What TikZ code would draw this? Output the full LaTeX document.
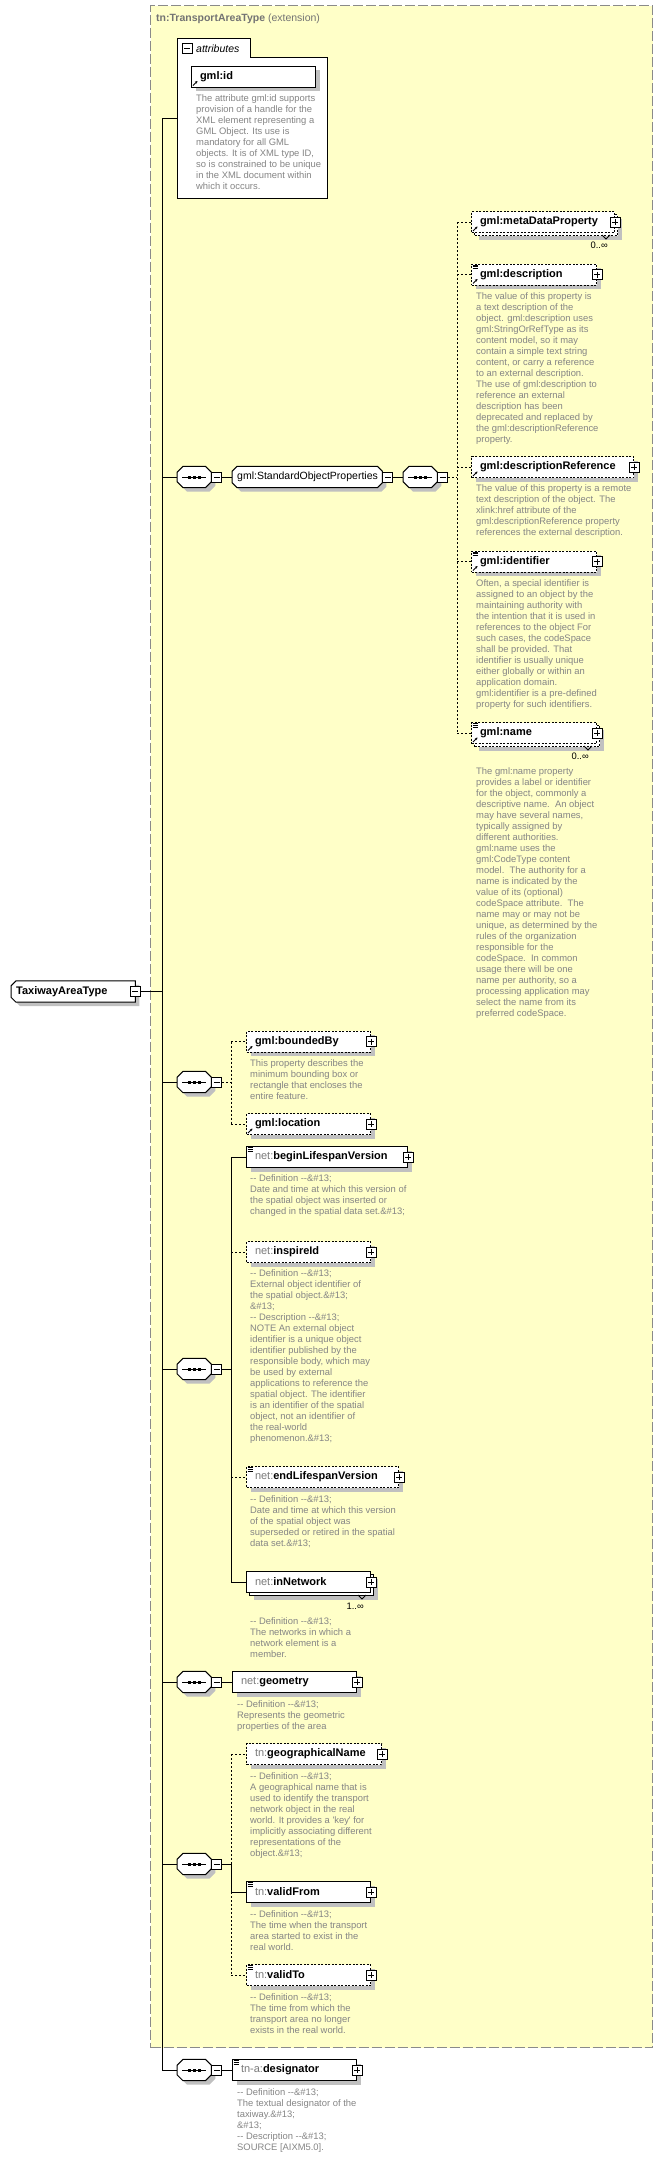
\documentclass[tikz,border=0pt]{standalone}
\usepackage{fontspec}
\setmainfont{Liberation Sans}
\usetikzlibrary{shadows,calc,arrows.meta}
\definecolor{ylw}{HTML}{FFFFC8}
\definecolor{ybord}{HTML}{8A8A8A}
\definecolor{dgray}{HTML}{858585}
\definecolor{pfx}{HTML}{7A7A7A}
\definecolor{hdr}{HTML}{737373}
\definecolor{shg}{HTML}{C0C0C0}
\newcommand\dfont{\fontsize{9.4}{11}\selectfont}
\newcommand\efont{\fontsize{11}{13}\selectfont\bfseries}
\newcommand\nfont{\fontsize{10.5}{12}\selectfont}
\newcommand\dd{-{}-}
\newcommand\ent{\&\#13;}
\tikzset{
  elemns/.style={draw, fill=white, line width=1pt, inner sep=0pt, minimum height=21pt, anchor=west, font=\efont},
  elem/.style={elemns, drop shadow={shadow xshift=4pt, shadow yshift=-4pt, fill=shg, opacity=1}},
  dsh/.style={dash pattern=on 2pt off 1.5pt},
  pbox/.style={draw, fill=white, line width=.8pt, minimum size=10pt, inner sep=0pt,
    path picture={\draw[line width=.8pt] ($(path picture bounding box.west)+(2,0)$) -- ($(path picture bounding box.east)+(-2,0)$)
      ($(path picture bounding box.north)+(0,2)$) -- ($(path picture bounding box.south)+(0,-2)$);}},
  mbox/.style={draw, fill=white, line width=.8pt, minimum size=10pt, inner sep=0pt,
    path picture={\draw[line width=.8pt] ($(path picture bounding box.west)+(2,0)$) -- ($(path picture bounding box.east)+(-2,0)$);}},
  anc/.style={draw=none, inner sep=0pt, anchor=west, minimum height=21pt},
  conn/.style={line width=1pt},
  dconn/.style={line width=1pt, dash pattern=on 2pt off 2pt},
  desc/.style={anchor=north west, inner sep=0pt, align=left, font=\dfont, text=dgray},
  mult/.style={anchor=east, inner sep=0pt, font=\dfont},
}
\newcommand\octpath[4]{($(#1.north west)+(#2+#3,#4)$) -- ($(#1.north east)+(-#2+#3,#4)$) -- ($(#1.north east)+(#3,#2+#4)$) -- ($(#1.south east)+(#3,-#2+#4)$) -- ($(#1.south east)+(-#2+#3,#4)$) -- ($(#1.south west)+(#2+#3,#4)$) -- ($(#1.south west)+(#3,-#2+#4)$) -- ($(#1.north west)+(#3,#2+#4)$) -- cycle}
\newcommand\octa[2]{\fill[shg] \octpath{#1}{#2}{4}{4}; \draw[line width=1pt, fill=white] \octpath{#1}{#2}{0}{0};}
\newcommand\seqicon[1]{%
  \draw[line width=.9pt] ($(#1.center)+(-12,0)$) -- ($(#1.center)+(12,0)$);
  \foreach \d in {-5,0,5} \fill ($(#1.center)+(\d-1.5,-1.5)$) rectangle ($(#1.center)+(\d+1.5,1.5)$);}
\newcommand\seqnode[3]{\node[anc, minimum width=34pt] (#1) at (#2,#3) {}; \octa{#1}{6} \seqicon{#1} \node[mbox, anchor=west] (#1m) at (#1.east) {};}
\newcommand\simpleicon[1]{\foreach \d in {1.6,3.3,5.0} \draw[line width=.7pt] ($(#1.north west)+(1.5,\d)$) -- ($(#1.north west)+(6.5,\d)$);}
\newcommand\reficon[1]{\draw[line width=.8pt, -{Stealth[length=2.6pt,width=2.6pt]}] ($(#1.south west)+(2,-2)$) -- ($(#1.south west)+(6.5,-6.5)$);}
\newcommand\elm[7][]{%
  \node[elem,#1] (#2) at (#3,#4) {\makebox[#5pt][l]{\hspace{8.5pt}{\mdseries\color{pfx}#6}#7}};
  \node[pbox] (#2p) at (#2.east) {};}
\newcommand\elmm[7][]{%
  \node[elem,#1] (#2b) at (#3+3,#4+3) {\makebox[#5pt][l]{}};
  \draw[line width=.8pt] ($(#2b.south east)+(-16,-1)$) -- ($(#2b.south east)+(-12,3)$) -- ($(#2b.south east)+(-8,-1)$);
  \node[elemns,#1] (#2) at (#3,#4) {\makebox[#5pt][l]{\hspace{8.5pt}{\mdseries\color{pfx}#6}#7}};
  \node[pbox] (#2p) at (#2.east) {};}
\newcommand\twshape[2]{($(#1.north west)+(5+#2,#2)$) -- ($(#1.north east)+(#2,#2)$) -- ($(#1.south east)+(#2,#2)$) -- ($(#1.south west)+(5+#2,#2)$) -- ($(#1.south west)+(#2,-5+#2)$) -- ($(#1.north west)+(#2,5+#2)$) -- cycle}
\begin{document}
\begin{tikzpicture}[x=1pt,y=-1pt]
\useasboundingbox (0,0) rectangle (669,2158);
% extension box
\node[draw=ybord, dash pattern=on 10pt off 3pt, line width=1pt, fill=ylw, anchor=north west, minimum width=502pt, minimum height=2042pt, inner sep=0pt] (ext) at (150,5) {};
\node[anchor=west, inner sep=0pt, font=\nfont, text=hdr] (hdr) at (156,19) {\textbf{tn:TransportAreaType} (extension)};
% attributes
\node[anchor=north west, minimum width=150pt, minimum height=160pt, inner sep=0pt] (attr) at (177,38) {};
\draw[line width=1pt, fill=white] (attr.north west) -- ($(attr.north west)+(73,0)$) -- ($(attr.north west)+(73,19)$) -- ($(attr.north east)+(0,19)$) -- (attr.south east) -- (attr.south west) -- cycle;
\node[mbox] (attrm) at (187,48.5) {};
\node[anchor=west, inner sep=0pt, font=\nfont\itshape] (attrt) at (196,48.5) {attributes};
\node[elem] (gid) at (191,76.5) {\makebox[124pt][l]{\hspace{8.5pt}gml:id}};
\reficon{gid}
\node[desc] (gidd) at (196,93.5) {\rule{0pt}{8pt}The attribute gml:id supports\\provision of a handle for the\\XML element representing a\\GML Object. Its use is\\mandatory for all GML\\objects. It is of XML type ID,\\so is constrained to be unique\\in the XML document within\\which it occurs.};
% root
\node[anc, minimum width=124pt] (tw) at (11,991.5) {};
\fill[shg] \twshape{tw}{4};
\draw[line width=1pt, fill=white] \twshape{tw}{0};
\node[anchor=west, inner sep=0pt, font=\efont] (twt) at (16,991.5) {TaxiwayAreaType};
\node[mbox] (twm) at (tw.east) {};
% spine
\coordinate (sptop) at (162,118);
\coordinate (spbot) at (162,2070);
\draw[conn] (sptop) -- (spbot);
\draw[conn] (twm.east) -- (twm.east -| sptop);
\draw[conn] (sptop) -- (sptop -| attr.west);
% standard object properties
\seqnode{s1}{177}{477}
\node[anc, minimum width=150pt] (grp) at (232,477) {};
\octa{grp}{5}
\node[anchor=west, inner sep=0pt, font=\nfont] (grpt) at (237,477) {gml:StandardObjectProperties};
\node[mbox, anchor=west] (grpm) at (grp.east) {};
\seqnode{s2}{403}{477}
\draw[conn] (s1.west -| sptop) -- (s1.west);
\draw[conn] (s1m.east) -- (grp.west);
\draw[conn] (grpm.east) -- (s2.west);
\coordinate (v2) at (457,0);
\elmm[dsh]{mdp}{471}{222}{143}{}{gml:metaDataProperty}
\reficon{mdp}
\node[mult] (mdpx) at (608,245) {0..∞};
\elm[dsh]{gdesc}{471}{274.5}{125}{}{gml:description}
\simpleicon{gdesc}\reficon{gdesc}
\node[desc] (gdescd) at (476,291.5) {\rule{0pt}{8pt}The value of this property is\\a text description of the\\object. gml:description uses\\gml:StringOrRefType as its\\content model, so it may\\contain a simple text string\\content, or carry a reference\\to an external description.\\The use of gml:description to\\reference an external\\description has been\\deprecated and replaced by\\the gml:descriptionReference\\property.};
\elm[dsh]{gdr}{471}{467}{162}{}{gml:descriptionReference}
\reficon{gdr}
\node[desc] (gdrd) at (476,483.5) {\rule{0pt}{8pt}The value of this property is a remote\\text description of the object. The\\xlink:href attribute of the\\gml:descriptionReference property\\references the external description.};
\elm[dsh]{gidf}{471}{561.5}{125}{}{gml:identifier}
\simpleicon{gidf}\reficon{gidf}
\node[desc] (gidfd) at (476,578.5) {\rule{0pt}{8pt}Often, a special identifier is\\assigned to an object by the\\maintaining authority with\\the intention that it is used in\\references to the object For\\such cases, the codeSpace\\shall be provided. That\\identifier is usually unique\\either globally or within an\\application domain.\\gml:identifier is a pre-defined\\property for such identifiers.};
\elmm[dsh]{gnm}{471}{733}{125}{}{gml:name}
\simpleicon{gnm}\reficon{gnm}
\node[mult] (gnmx) at (589,756) {0..∞};
\node[desc] (gnmd) at (476,766.5) {\rule{0pt}{8pt}The gml:name property\\provides a label or identifier\\for the object, commonly a\\descriptive name.\ \ An object\\may have several names,\\typically assigned by\\different authorities.\\gml:name uses the\\gml:CodeType content\\model.\ \ The authority for a\\name is indicated by the\\value of its (optional)\\codeSpace attribute.\ \ The\\name may or may not be\\unique, as determined by the\\rules of the organization\\responsible for the\\codeSpace.\ \ In common\\usage there will be one\\name per authority, so a\\processing application may\\select the name from its\\preferred codeSpace.};
\draw[dconn] (s2m.east) -- (s2m.east -| v2);
\draw[dconn] (mdp.west -| v2) -- (gnm.west -| v2);
\foreach \n in {mdp,gdesc,gdr,gidf,gnm} \draw[dconn] (\n.west -| v2) -- (\n.west);
% boundedBy / location
\seqnode{s3}{177}{1082}
\draw[conn] (s3.west -| sptop) -- (s3.west);
\coordinate (v3) at (231,0);
\elm[dsh]{bb}{246}{1041.5}{124}{}{gml:boundedBy}
\reficon{bb}
\node[desc] (bbd) at (250,1058.5) {\rule{0pt}{8pt}This property describes the\\minimum bounding box or\\rectangle that encloses the\\entire feature.};
\elm[dsh]{loc}{246}{1124}{124}{}{gml:location}
\reficon{loc}
\draw[dconn] (s3m.east) -- (s3m.east -| v3);
\draw[dconn] (bb.west -| v3) -- (loc.west -| v3);
\draw[dconn] (bb.west -| v3) -- (bb.west);
\draw[dconn] (loc.west -| v3) -- (loc.west);
% net sequence
\seqnode{s4}{177}{1369}
\draw[conn] (s4.west -| sptop) -- (s4.west);
\elm{blv}{246}{1157}{161}{net:}{beginLifespanVersion}
\simpleicon{blv}
\node[desc] (blvd) at (250,1173.5) {\rule{0pt}{8pt}\dd{} Definition \dd\ent\\Date and time at which this version of\\the spatial object was inserted or\\changed in the spatial data set.\ent};
\elm[dsh]{iid}{246}{1252}{124}{net:}{inspireId}
\node[desc] (iidd) at (250,1268.5) {\rule{0pt}{8pt}\dd{} Definition \dd\ent\\External object identifier of\\the spatial object.\ent\\\ent\\\dd{} Description \dd\ent\\NOTE An external object\\identifier is a unique object\\identifier published by the\\responsible body, which may\\be used by external\\applications to reference the\\spatial object. The identifier\\is an identifier of the spatial\\object, not an identifier of\\the real-world\\phenomenon.\ent};
\elm[dsh]{elv}{246}{1477}{152}{net:}{endLifespanVersion}
\simpleicon{elv}
\node[desc] (elvd) at (250,1494.5) {\rule{0pt}{8pt}\dd{} Definition \dd\ent\\Date and time at which this version\\of the spatial object was\\superseded or retired in the spatial\\data set.\ent};
\elmm{inn}{246}{1582}{124}{net:}{inNetwork}
\node[mult] (innx) at (364,1606) {1..∞};
\node[desc] (innd) at (250,1616.5) {\rule{0pt}{8pt}\dd{} Definition \dd\ent\\The networks in which a\\network element is a\\member.};
\coordinate (v4) at (231,0);
\draw[conn] (s4m.east) -- (s4m.east -| v4);
\draw[conn] (blv.west -| v4) -- (inn.west -| v4);
\draw[conn] (blv.west -| v4) -- (blv.west);
\draw[dconn] (iid.west -| v4) -- (iid.west);
\draw[dconn] (elv.west -| v4) -- (elv.west);
\draw[conn] (inn.west -| v4) -- (inn.west);
% geometry
\seqnode{s5}{177}{1682}
\draw[conn] (s5.west -| sptop) -- (s5.west);
\elm{geo}{232}{1682}{124}{net:}{geometry}
\draw[conn] (s5m.east) -- (geo.west);
\node[desc] (geod) at (237,1699.5) {\rule{0pt}{8pt}\dd{} Definition \dd\ent\\Represents the geometric\\properties of the area};
% tn sequence
\seqnode{s6}{177}{1864}
\draw[conn] (s6.west -| sptop) -- (s6.west);
\elm[dsh]{gn}{246}{1754}{135}{tn:}{geographicalName}
\node[desc] (gnd) at (250,1771.5) {\rule{0pt}{8pt}\dd{} Definition \dd\ent\\A geographical name that is\\used to identify the transport\\network object in the real\\world. It provides a \textquotesingle key\textquotesingle{} for\\implicitly associating different\\representations of the\\object.\ent};
\elm{vf}{246}{1892}{124}{tn:}{validFrom}
\simpleicon{vf}
\node[desc] (vfd) at (250,1909.5) {\rule{0pt}{8pt}\dd{} Definition \dd\ent\\The time when the transport\\area started to exist in the\\real world.};
\elm[dsh]{vt}{246}{1975}{124}{tn:}{validTo}
\simpleicon{vt}
\node[desc] (vtd) at (250,1992.5) {\rule{0pt}{8pt}\dd{} Definition \dd\ent\\The time from which the\\transport area no longer\\exists in the real world.};
\coordinate (v6) at (231,0);
\draw[conn] (s6m.east) -- (s6m.east -| v6);
\draw[dconn] (gn.west -| v6) -- (s6m.east -| v6);
\draw[conn] (s6m.east -| v6) -- (vf.west -| v6);
\draw[dconn] (vf.west -| v6) -- (vt.west -| v6);
\draw[dconn] (gn.west -| v6) -- (gn.west);
\draw[conn] (vf.west -| v6) -- (vf.west);
\draw[dconn] (vt.west -| v6) -- (vt.west);
% designator
\seqnode{s7}{177}{2070}
\draw[conn] (spbot) -- (s7.west);
\elm{des}{232}{2070}{124}{tn-a:}{designator}
\simpleicon{des}
\draw[conn] (s7m.east) -- (des.west);
\node[desc] (desd) at (237,2087.5) {\rule{0pt}{8pt}\dd{} Definition \dd\ent\\The textual designator of the\\taxiway.\ent\\\ent\\\dd{} Description \dd\ent\\SOURCE [AIXM5.0].};
\end{tikzpicture}
\end{document}
